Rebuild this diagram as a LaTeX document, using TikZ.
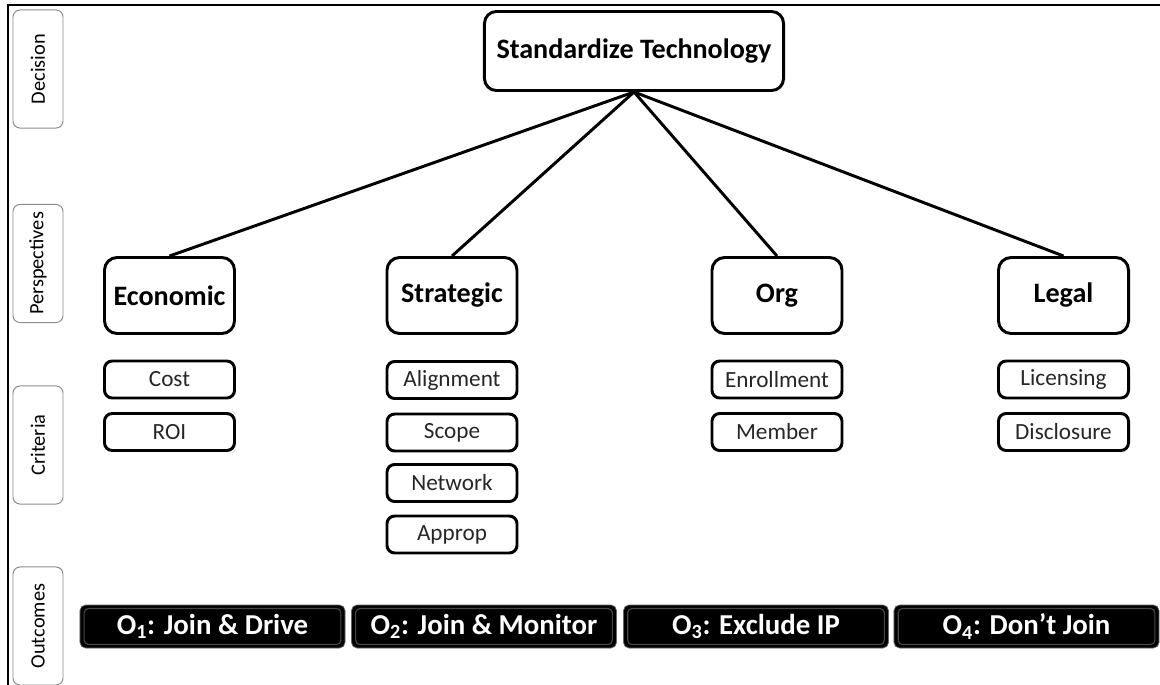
\documentclass[tikz,border=0pt]{standalone}
\usepackage{fontspec}
\setmainfont{Carlito}
\begin{document}
\begin{tikzpicture}[x=0.025cm,y=-0.025cm,
  rowlabel/.style={draw=black!45,line width=0.7pt,rounded corners=5pt,rotate=90,
    minimum width=2.95cm,minimum height=1.25cm,font=\fontsize{14.5}{16}\selectfont},
  decision/.style={draw,line width=2.1pt,rounded corners=8.5pt,minimum width=7.475cm,
    minimum height=1.975cm,font=\fontsize{20}{23}\selectfont\bfseries},
  persp/.style={draw,line width=2.1pt,rounded corners=9pt,minimum width=3.25cm,
    minimum height=1.9cm,font=\fontsize{20}{23}\selectfont\bfseries},
  crit/.style={draw,line width=2.1pt,rounded corners=5.5pt,minimum width=3.25cm,
    minimum height=0.925cm,text=black!85,font=\fontsize{16.5}{18}\selectfont},
  outcome/.style={fill=black,draw=black!60,line width=0.5pt,rounded corners=4pt,
    minimum width=6.625cm,minimum height=1.075cm,
    text=white,font=\fontsize{20.5}{23}\selectfont\bfseries,
    path picture={\draw[black!72,line width=0.8pt,rounded corners=3pt]
      ([shift={(3pt,-2.5pt)}]path picture bounding box.north west) rectangle
      ([shift={(-3pt,2.5pt)}]path picture bounding box.south east);}},
  link/.style={line width=2.1pt}]
  \useasboundingbox (0,0) rectangle (1160,685);
  %frame
  \draw[line width=1pt] (8,685) -- (8,5) -- (1160,5);
  % row labels
  \node[rowlabel] (lDecision) at (38,69) {Decision};
  \node[rowlabel] (lPersp) at (38,263.5) {Perspectives};
  \node[rowlabel] (lCriteria) at (38,445) {Criteria};
  \node[rowlabel] (lOutcomes) at (38,626) {Outcomes};
  % decision and perspectives
  \node[decision] (std) at (634,51) {Standardize Technology};
  \node[persp] (econ) at (169.5,295.5) {Economic};
  \node[persp] (strat) at (452,295.5) {Strategic};
  \node[persp] (org) at (777,295.5) {Org};
  \node[persp] (legal) at (1063.5,295.5) {Legal};
  \foreach \p in {econ,strat,org,legal}
    \draw[link] (std.south) -- (\p.north);
  % criteria
  \node[crit] (cost) at (169.5,379.5) {Cost};
  \node[crit] (roi) at (169.5,432) {ROI};
  \node[crit] (align) at (452,380) {Alignment};
  \node[crit] (scope) at (452,432.5) {Scope};
  \node[crit] (network) at (452,483) {Network};
  \node[crit] (approp) at (452,534.5) {Approp};
  \node[crit] (enroll) at (777,379.5) {Enrollment};
  \node[crit] (member) at (777,432) {Member};
  \node[crit] (licens) at (1063.5,379.5) {Licensing};
  \node[crit] (disclos) at (1063.5,432) {Disclosure};
  % outcomes
  \node[outcome] (o1) at (212.5,626.5) {O\textsubscript{1}: Join \& Drive};
  \node[outcome] (o2) at (484,626.5) {O\textsubscript{2}: Join \& Monitor};
  \node[outcome] (o3) at (756,626.5) {O\textsubscript{3}: Exclude IP};
  \node[outcome] (o4) at (1026.5,626.5) {O\textsubscript{4}: Don’t Join};
\end{tikzpicture}
\end{document}
